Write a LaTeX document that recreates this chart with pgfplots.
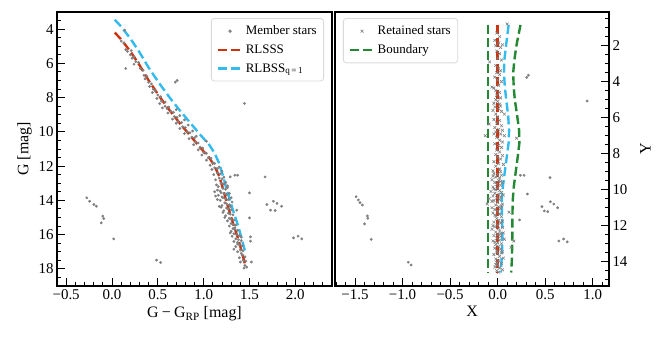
\documentclass[border=0pt]{standalone}
\usepackage{pgfplots}
\pgfplotsset{compat=1.18}
\usepackage{fontspec}
\setmainfont{Liberation Serif}
\definecolor{cred}{HTML}{CC3311}
\definecolor{ccyan}{HTML}{33BBEE}
\definecolor{cgreen}{HTML}{228833}
\definecolor{cgray}{HTML}{808080}
\pgfplotsset{
  mystyle/.style={
    scale only axis, anchor=south west,
    axis line style={line width=1.2bp},
    tick style={line width=0.9bp, black},
    major tick length=8bp, minor tick length=4.5bp,
    tick align=inside,
    /pgf/number format/assume math mode=true,
    ticklabel style={font=\fontsize{15}{18}\selectfont},
    xlabel style={font=\fontsize{16}{19}\selectfont},
    ylabel style={font=\fontsize{16}{19}\selectfont},
    legend cell align=left,
    legend style={draw=black!15, line width=0.8bp, rounded corners=3bp,
      fill=white, fill opacity=0.8, text opacity=1,
      font=\fontsize{13}{15}\selectfont, inner xsep=5bp, inner ysep=5.5bp,
      row sep=4.5bp,
      /tikz/every even column/.append style={column sep=10bp}},
  },
  dashline/.style={line width=2.4bp, dash pattern=on 9bp off 4bp,
    legend image code/.code={\draw[##1] (0bp,0bp) -- (25bp,0bp);}},
  dotmark/.style={only marks, color=cgray, mark=*, mark size=1.2bp, mark options={draw=none, fill=cgray},
    legend image code/.code={\draw[mark repeat=2,mark phase=2,##1] plot coordinates {(0bp,0bp)(12.5bp,0bp)(25bp,0bp)};}},
  xmark/.style={only marks, color=cgray, mark=x, mark size=2bp, mark options={line width=0.6bp, draw=cgray},
    legend image code/.code={\draw[mark repeat=2,mark phase=2,##1] plot coordinates {(0bp,0bp)(12.5bp,0bp)(25bp,0bp)};}},
}
\begin{document}
\begin{tikzpicture}
\useasboundingbox (0,0) rectangle (665bp,342bp);
\begin{axis}[mystyle,
  at={(57bp,56bp)}, width=275bp, height=274bp,
  xmin=-0.6, xmax=2.4, ymin=3, ymax=19, y dir=reverse,
  xtick pos=bottom, ytick pos=left,
  xtick={-0.5,0,0.5,1,1.5,2}, xticklabels={−0.5,0.0,0.5,1.0,1.5,2.0},
  ytick={4,6,8,10,12,14,16,18},
  minor xtick={-0.6,-0.5,...,2.4}, minor ytick={3,3.5,...,19},
  xlabel={G\kern0.2em−\kern0.2emG\textsubscript{RP} [mag]},
  ylabel={G [mag]},
  legend style={at={(0.971,0.978)}, anchor=north east},
]
\addplot[dotmark] coordinates {
(0.14,4.06)(0.10,4.7)(0.13,4.8)(0.15,5.2)(0.17,5.3)(0.21,5.25)(0.20,5.5)(0.24,5.6)(0.22,5.7)
(0.26,5.9)(0.29,5.95)(0.24,6.05)(0.15,6.3)(0.31,6.3)(0.34,6.4)(0.35,6.7)(0.38,6.75)(0.36,6.9)
(0.40,7.1)(0.43,7.2)(0.41,7.35)(0.45,7.5)(0.47,7.6)(0.44,7.7)(0.50,7.85)(0.53,7.95)(0.49,8.05)
(0.54,8.2)(0.58,8.25)(0.52,8.35)(0.58,8.5)(0.62,8.55)(0.60,8.65)(0.55,8.6)
(0.64,8.8)(0.67,8.85)(0.61,8.9)(0.70,8.7)(0.68,9.1)(0.71,9.15)(0.66,9.25)(0.74,9.05)
(0.72,9.4)(0.76,9.45)(0.70,9.5)(0.79,9.3)(0.77,9.7)(0.80,9.75)(0.74,9.8)(0.83,9.6)
(0.82,10.0)(0.85,10.05)(0.79,10.1)(0.88,9.95)(0.87,10.3)(0.90,10.35)(0.84,10.4)(0.92,10.25)
(0.91,10.6)(0.94,10.65)(0.89,10.75)(1.03,10.55)(0.96,10.9)(0.99,10.95)(0.94,11.05)
(1.00,11.2)(1.03,11.25)(0.98,11.35)(1.05,11.5)(1.08,11.55)(1.03,11.65)(1.10,11.8)(1.12,11.85)(1.07,11.95)
(1.12,12.1)(1.15,12.15)(1.09,12.2)(1.17,12.05)(1.15,12.4)(1.18,12.45)(1.11,12.5)(1.20,12.3)
(1.17,12.7)(1.20,12.75)(1.13,12.8)(1.22,12.65)(1.19,13.0)(1.22,13.05)(1.14,13.1)(1.24,12.95)(1.16,13.2)
(1.21,13.3)(1.24,13.35)(1.15,13.4)(1.18,13.45)(1.26,13.25)(1.12,13.5)
(1.22,13.6)(1.25,13.65)(1.16,13.7)(1.19,13.55)(1.28,13.6)(1.13,13.75)
(1.24,13.9)(1.27,13.95)(1.18,14.0)(1.21,13.85)(1.15,13.95)(1.30,13.85)
(1.25,14.2)(1.28,14.25)(1.20,14.3)(1.23,14.15)(1.17,14.35)(1.31,14.1)
(1.27,14.5)(1.30,14.55)(1.22,14.6)(1.25,14.45)(1.19,14.4)
(1.29,14.8)(1.32,14.85)(1.24,14.9)(1.27,14.75)(1.21,14.7)
(1.30,15.1)(1.33,15.15)(1.26,15.2)(1.28,15.05)(1.32,15.4)(1.35,15.45)(1.28,15.5)(1.30,15.35)
(1.34,15.7)(1.37,15.75)(1.30,15.8)(1.32,15.65)(1.36,16.0)(1.39,16.05)(1.31,16.1)(1.33,15.95)(1.41,16.15)
(1.38,16.3)(1.41,16.35)(1.33,16.4)(1.35,16.25)(1.39,16.6)(1.42,16.65)(1.35,16.7)(1.37,16.55)
(1.40,16.9)(1.43,16.95)(1.37,17.0)(1.42,17.2)(1.45,17.3)(1.39,17.35)(1.43,17.5)(1.46,17.55)(1.40,17.6)
(1.45,17.8)(1.47,17.9)(1.44,17.95)
(1.26,13.15)(1.20,13.8)(1.29,14.35)(1.23,15.0)(1.34,15.6)(1.29,15.9)(1.37,16.45)(1.33,16.85)(1.41,17.1)
(0.69,7.1)(0.71,7.0)(1.445,8.34)(-0.275,13.85)(-0.245,14.05)(-0.198,14.24)(-0.17,14.34)(-0.10,14.92)(-0.09,15.06)(-0.117,15.31)(0.018,16.25)(0.485,17.49)(0.53,17.63)
(1.29,12.63)(1.34,12.53)(1.37,12.53)(1.67,12.63)(1.50,13.56)(1.36,14.57)(1.69,14.24)(1.76,14.05)(1.80,14.18)(1.85,14.34)(1.73,14.57)(1.78,14.59)(1.50,15.02)
(1.98,16.19)(2.03,16.09)(2.07,16.25)(1.51,16.13)(1.51,16.38)(1.52,17.6)
};
\addlegendentry{Member stars}
\addplot[dashline, cred] coordinates {
(0.03,4.2)(0.10,4.6)(0.20,5.3)(0.30,6.1)(0.40,7.0)(0.52,7.95)(0.63,8.75)(0.74,9.5)(0.85,10.2)(0.96,10.9)(1.06,11.5)(1.12,12.0)(1.17,12.6)(1.21,13.3)(1.25,14.1)(1.29,14.8)(1.33,15.5)(1.38,16.3)(1.42,17.1)(1.46,17.9)
};
\addlegendentry{RLSSS}
\addplot[dashline, ccyan] coordinates {
(0.03,3.45)(0.10,3.85)(0.20,4.55)(0.30,5.35)(0.40,6.25)(0.52,7.2)(0.63,8.0)(0.74,8.75)(0.85,9.45)(0.96,10.15)(1.06,10.75)(1.12,11.25)(1.17,11.85)(1.21,12.55)(1.25,13.35)(1.29,14.05)(1.33,14.75)(1.38,15.55)(1.42,16.35)(1.46,17.15)
};
\addlegendentry{RLBSS\textsubscript{q\,=\,1}}
\end{axis}

\begin{axis}[mystyle,
  at={(335bp,56bp)}, width=274bp, height=274bp,
  xmin=-1.71, xmax=1.17, ymin=0.13, ymax=15.35, y dir=reverse,
  xtick pos=bottom, ytick pos=right, yticklabel pos=right,
  xtick={-1.5,-1,-0.5,0,0.5,1}, xticklabels={−1.5,−1.0,−0.5,0.0,0.5,1.0},
  ytick={2,4,6,8,10,12,14},
  minor xtick={-1.7,-1.6,...,1.15}, minor ytick={0.5,1,...,15},
  xlabel={X}, ylabel={Y}, ylabel near ticks,
  ylabel style={font=\fontsize{16}{19}\selectfont, xshift=0bp, yshift=-6bp},
  legend style={at={(0.029,0.978)}, anchor=north west},
]
\addplot[xmark] coordinates {
(0.10,0.8)(-0.01,1.3)(0.02,1.5)(-0.03,1.7)(0.01,1.85)(-0.02,2.0)(0.03,2.1)(0.05,1.95)(-0.01,2.3)(0.02,2.45)(-0.085,2.9)(0.00,2.7)(0.04,2.8)
(-0.02,3.1)(0.01,3.25)(0.03,3.4)(-0.01,3.5)(0.02,3.6)(-0.03,3.75)(0.00,3.9)(0.04,4.0)(-0.06,4.3)(-0.04,4.35)(0.01,4.2)(-0.02,4.5)(0.02,4.6)(-0.01,4.75)(0.03,4.9)
(-0.02,5.0)(0.00,5.1)(-0.04,5.2)(0.02,5.25)(-0.03,5.4)(0.01,5.5)(-0.05,5.6)(0.04,5.65)(0.07,5.8)(-0.02,5.8)(0.00,5.95)(-0.04,6.1)(0.02,6.15)(-0.09,6.35)(-0.01,6.3)(0.04,6.45)(-0.03,6.55)(0.01,6.65)(0.05,6.7)(-0.02,6.8)(0.03,6.9)(-0.13,7.0)(0.07,7.0)(0.198,7.14)(-0.01,7.1)(0.02,7.25)(0.05,7.35)
(-0.03,7.45)(0.01,7.55)(0.04,7.65)(-0.01,7.8)(0.02,7.9)(-0.02,8.05)(0.00,8.2)(0.03,8.3)(-0.04,8.45)(0.01,8.55)(0.06,8.6)(-0.02,8.7)(0.02,8.85)(-0.05,8.95)(0.03,9.0)
(-0.04,9.1)(0.00,9.15)(0.04,9.2)(-0.02,9.3)(0.02,9.35)(-0.06,9.45)(0.01,9.5)(-0.03,9.6)(0.05,9.6)(-0.01,9.7)(0.03,9.75)(-0.05,9.85)(0.00,9.9)(-0.02,10.0)(0.02,10.05)(-0.07,10.1)(0.04,10.15)(-0.03,10.2)(0.01,10.25)(-0.05,10.35)(0.03,10.4)(-0.01,10.45)(-0.09,10.5)(0.02,10.55)(-0.04,10.6)(0.00,10.7)(-0.11,10.8)(0.05,10.8)(-0.02,10.85)(0.01,10.95)(-0.06,11.0)
(0.03,11.05)(-0.03,11.1)(0.12,11.25)(0.00,11.2)(-0.05,11.3)(0.02,11.35)(-0.02,11.45)(0.04,11.5)(-0.01,11.6)(0.01,11.7)(-0.04,11.8)(0.03,11.85)(0.00,11.95)(-0.03,12.05)(0.05,12.1)(0.01,12.15)(-0.06,12.2)(0.02,12.3)(-0.02,12.35)(0.06,12.4)(0.00,12.5)(-0.04,12.55)(0.03,12.6)(-0.01,12.7)(0.07,12.75)(0.02,12.8)(-0.05,12.85)(0.17,12.85)(0.00,12.95)
(0.04,13.0)(-0.02,13.05)(0.01,13.15)(0.14,13.2)(-0.03,13.25)(0.03,13.3)(-0.01,13.4)(0.05,13.45)(0.00,13.55)(-0.04,13.6)(0.02,13.7)(0.06,13.8)(-0.02,13.85)(0.01,13.95)(-0.01,14.05)(0.04,14.1)(0.00,14.2)(-0.03,14.3)(0.02,14.35)(0.05,14.45)(-0.01,14.5)(0.01,14.58)
(-0.05,9.25)(0.03,9.55)(-0.04,9.95)(0.06,10.3)(-0.06,10.65)(0.04,10.9)(-0.03,11.4)(0.05,11.75)(-0.05,12.0)(0.03,12.45)(-0.03,12.9)(0.04,13.5)(-0.02,14.15)(0.03,5.35)(-0.04,6.9)(0.05,8.1)
};
\addlegendentry{Retained stars}
\addplot[dashline, cgreen] coordinates {(-0.105,0.85)(-0.105,14.6)};
\addlegendentry{Boundary}
\addplot[dashline, cgreen, forget plot] coordinates {
(0.24,0.85)(0.2,1.9)(0.175,2.8)(0.163,3.5)(0.168,4.3)(0.18,5.0)(0.205,5.9)(0.225,6.7)(0.228,7.4)(0.21,8.2)(0.19,9.0)(0.17,9.8)(0.158,10.6)(0.155,11.4)(0.155,12.3)(0.152,13.2)(0.148,14.0)(0.142,14.6)
};
\addplot[dotmark, forget plot] coordinates {
(0.305,3.76)(0.323,3.64)(0.94,5.07)(0.238,9.2)(0.277,9.2)(0.55,9.33)(0.312,10.24)(0.465,10.94)(0.49,11.18)(0.526,11.22)(0.554,10.67)(0.59,10.8)(0.63,11.0)(0.23,11.68)(0.643,12.85)(0.693,12.74)(0.731,12.9)
(-1.489,10.39)(-1.465,10.57)(-1.447,10.72)(-1.422,10.85)(-1.369,11.46)(-1.365,11.59)(-1.40,11.9)(-1.33,12.76)(-0.94,14.03)(-0.91,14.18)
};
\addplot[dashline, cred, forget plot] coordinates {(0,0.85)(0,14.6)};
\addplot[dashline, ccyan, forget plot] coordinates {
(0.115,0.85)(0.09,1.9)(0.07,2.8)(0.066,3.5)(0.075,4.3)(0.09,5.0)(0.11,5.9)(0.12,6.7)(0.115,7.4)(0.095,8.2)(0.075,9.0)(0.055,9.8)(0.042,10.6)(0.045,11.4)(0.05,12.3)(0.047,13.2)(0.04,14.0)(0.03,14.6)
};
\end{axis}
\end{tikzpicture}
\end{document}
